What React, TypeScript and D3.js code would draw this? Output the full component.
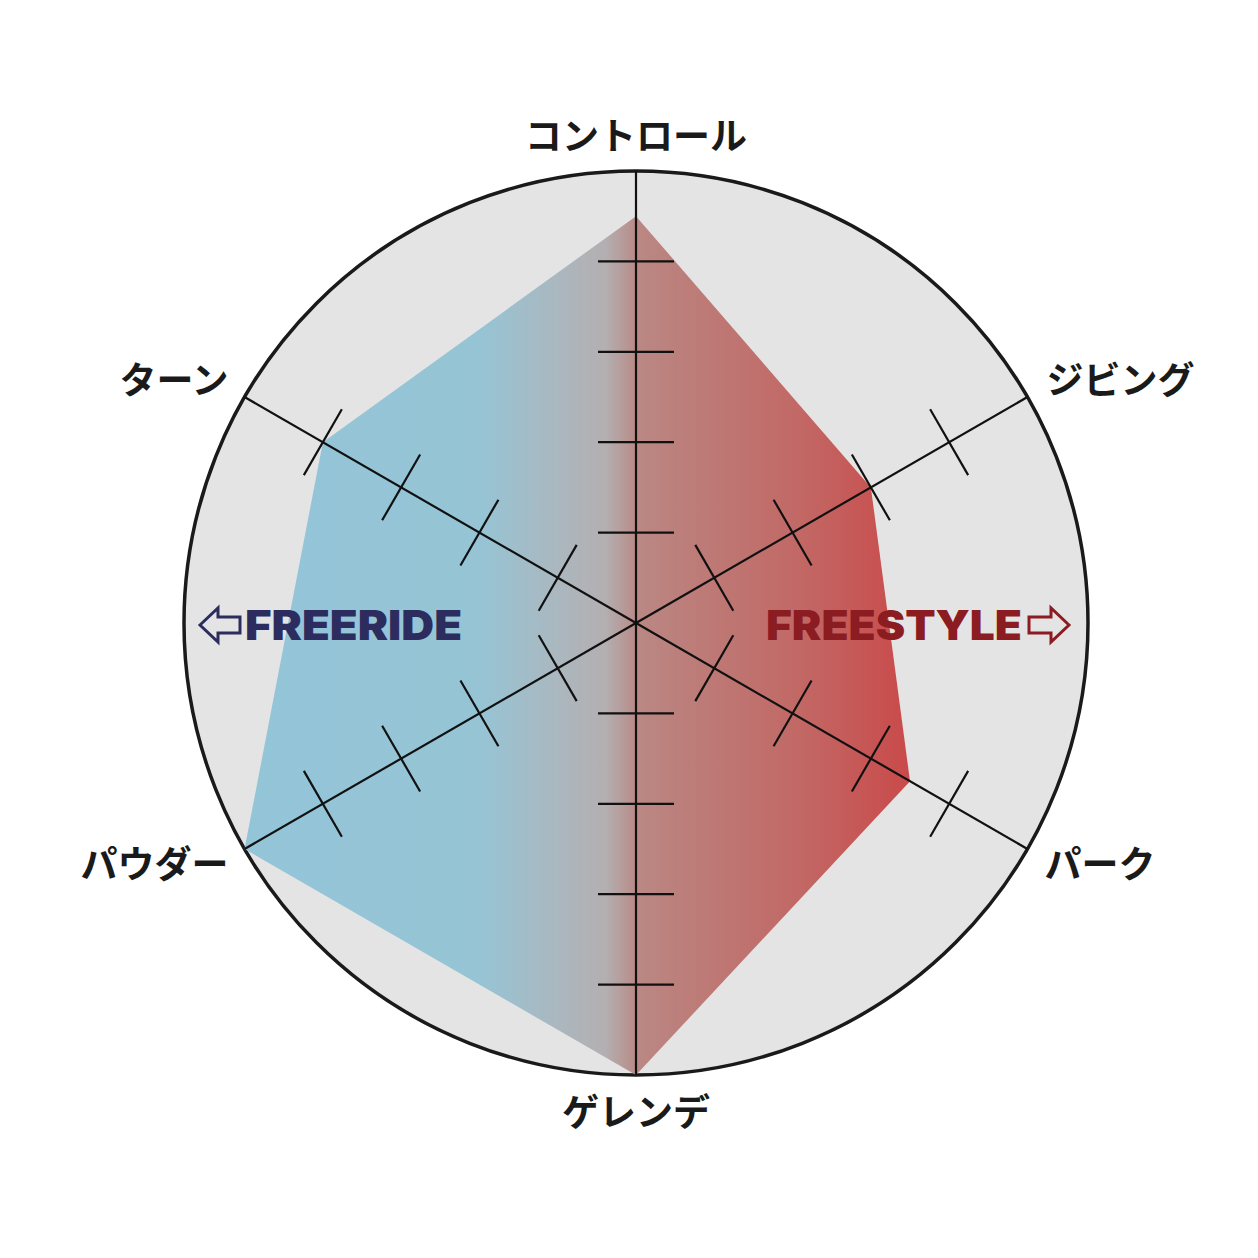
import React from "react";
import * as d3 from "d3";

const axes = ["コントロール", "ジビング", "パーク", "ゲレンデ", "パウダー", "ターン"];
const values = [4.5, 3, 3.5, 5, 5, 4];
const tickLevels = [1, 2, 3, 4];
const maxLevel = 5;
const leftLabel = "FREERIDE";
const rightLabel = "FREESTYLE";

const W = 1258;
const H = 1258;
const cx = 636;
const cy = 623;
const R = 452;

// label offsets from axis end (layout)
const labelOffsets: [number, number, string][] = [
  [0, -37, "middle"],
  [19, -19, "start"],
  [17, 13, "start"],
  [0, 35, "middle"],
  [-16, 13, "end"],
  [-16, -19, "end"],
];

export default function App() {
  const r = d3.scaleLinear().domain([0, maxLevel]).range([0, R]);
  const angle = (i: number) => -Math.PI / 2 + (i * Math.PI) / 3;
  const pt = (i: number, v: number): [number, number] => [
    cx + r(v) * Math.cos(angle(i)),
    cy + r(v) * Math.sin(angle(i)),
  ];
  const polyPts = values.map((v, i) => pt(i, v));
  const line = d3.line<[number, number]>().curve(d3.curveLinearClosed);
  const xs = polyPts.map((p) => p[0]);
  const x0 = d3.min(xs)!;
  const x1 = d3.max(xs)!;
  const off = (x: number) => (x - x0) / (x1 - x0);

  const tickHalf = 38;

  return (
    <svg width={W} height={H} style={{ position: "absolute", left: 0, top: 0, background: "#fff" }}>
      <defs>
        <linearGradient id="grad" gradientUnits="userSpaceOnUse" x1={x0} x2={x1} y1={0} y2={0}>
          <stop offset={0} stopColor="#93c5d8" />
          <stop offset={off(480)} stopColor="#96c4d5" />
          <stop offset={off(560)} stopColor="#abb7be" />
          <stop offset={off(605)} stopColor="#b4afb1" />
          <stop offset={off(622)} stopColor="#b69c9b" />
          <stop offset={off(638)} stopColor="#ba8884" />
          <stop offset={off(680)} stopColor="#bc7f7b" />
          <stop offset={off(800)} stopColor="#c26865" />
          <stop offset={1} stopColor="#c94a4a" />
        </linearGradient>
      </defs>
      <rect width={W} height={H} fill="#fff" />
      <circle cx={cx} cy={cy} r={R} fill="#e4e4e4" stroke="#1a1a1a" strokeWidth={3.5} />
      <path d={line(polyPts) || ""} fill="url(#grad)" />
      {axes.map((_, i) => {
        const [ex, ey] = pt(i, maxLevel);
        const a = angle(i);
        const px = -Math.sin(a);
        const py = Math.cos(a);
        return (
          <g key={i}>
            <line x1={cx} y1={cy} x2={ex} y2={ey} stroke="#111" strokeWidth={2.2} />
            {tickLevels.map((t) => {
              const [tx, ty] = pt(i, t);
              return (
                <line
                  key={t}
                  x1={tx - px * tickHalf}
                  y1={ty - py * tickHalf}
                  x2={tx + px * tickHalf}
                  y2={ty + py * tickHalf}
                  stroke="#111"
                  strokeWidth={2.2}
                />
              );
            })}
          </g>
        );
      })}
      {axes.map((name, i) => {
        const [ex, ey] = pt(i, maxLevel);
        const [dx, dy, anchor] = labelOffsets[i];
        return (
          <text
            key={name}
            x={ex + dx}
            y={ey + dy}
            textAnchor={anchor as any}
            dominantBaseline="central"
            fontFamily="'Noto Sans CJK JP', sans-serif"
            fontWeight={700}
            fontSize={37}
            fill="#1a1a1a"
          >
            {name}
          </text>
        );
      })}
      {/* FREERIDE */}
      <path
        d="M200,625 L218,608 L218,617 L240,617 L240,633 L218,633 L218,642 Z"
        fill="none"
        stroke="#2c2d5e"
        strokeWidth={3}
        strokeLinejoin="miter"
      />
      <text
        x={245}
        y={625}
        dominantBaseline="central"
        fontFamily="Inter, sans-serif"
        fontWeight={900}
        fontSize={41}
        fill="#2c2d5e"
        textLength={217}
        lengthAdjust="spacingAndGlyphs"
      >
        {leftLabel}
      </text>
      {/* FREESTYLE */}
      <text
        x={766}
        y={625}
        dominantBaseline="central"
        fontFamily="Inter, sans-serif"
        fontWeight={900}
        fontSize={41}
        fill="#8b1c22"
        textLength={256}
        lengthAdjust="spacingAndGlyphs"
      >
        {rightLabel}
      </text>
      <path
        d="M1069,625 L1051,608 L1051,617 L1029,617 L1029,633 L1051,633 L1051,642 Z"
        fill="none"
        stroke="#8b1c22"
        strokeWidth={3}
        strokeLinejoin="miter"
      />
    </svg>
  );
}
